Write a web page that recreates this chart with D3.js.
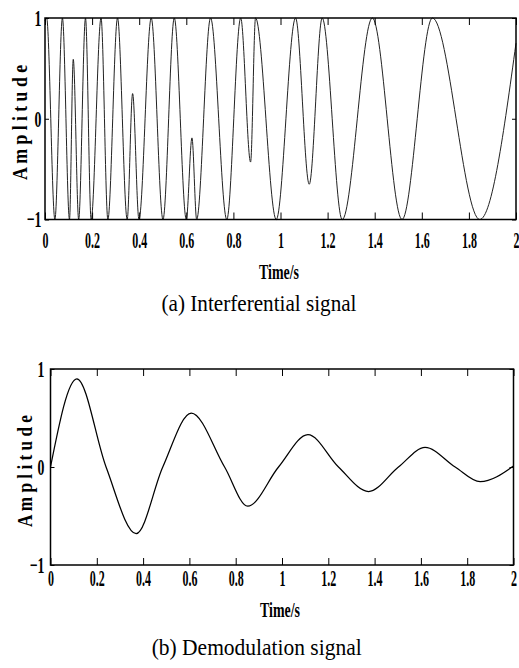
<!DOCTYPE html>
<html>
<head>
<meta charset="utf-8">
<script src="https://cdn.jsdelivr.net/npm/d3@7"></script>
<style>
  body { margin: 0; background: #fff; }
  svg text { font-family: "Liberation Serif", "DejaVu Serif", serif; }
</style>
</head>
<body>
<svg id="chart" width="519" height="668"></svg>
<script>
// (a) interferential signal: peaks, troughs and spikes
const timeA = [0, 0.007, 0.042, 0.074, 0.104, 0.120, 0.143, 0.172, 0.196, 0.238, 0.267, 0.308,
  0.349, 0.372, 0.399, 0.451, 0.501, 0.549, 0.600, 0.624, 0.644, 0.703, 0.772, 0.831,
  0.873, 0.894, 0.982, 1.064, 1.122, 1.177, 1.262, 1.390, 1.516, 1.645, 1.846, 2.0];
const ampA = [0.97, 1, -1, 1, -1, 0.59, -1, 1, -1, 1, -1, 1,
  -1, 0.25, -1, 1, -1, 1, -1, -0.19, -1, 1, -1, 1,
  -0.43, 1, -1, 1, -0.65, 1, -1, 1, -1, 1, -1, 0.75];

// (b) demodulation signal: extrema and zero crossings
const timeB = [0, 0.114, 0.24, 0.370, 0.485, 0.608, 0.752, 0.852, 0.985, 1.112, 1.244,
  1.374, 1.503, 1.618, 1.748, 1.856, 2.0];
const ampB = [0, 0.9, 0, -0.68, 0, 0.55, 0, -0.4, 0, 0.33, 0, -0.25, 0, 0.2, 0, -0.15, 0.01];

const xTicks = [0, 0.2, 0.4, 0.6, 0.8, 1, 1.2, 1.4, 1.6, 1.8, 2];
const yTicks = [-1, 0, 1];

const FONT = "Liberation Serif";
const svg = d3.select("#chart");

function panel(cfg) {
  const x = d3.scaleLinear().domain([0, 2]).range([cfg.left, cfg.right]);
  const y = d3.scaleLinear().domain([-1, 1]).range([cfg.bottom, cfg.top]);
  const g = svg.append("g");

  const pts = cfg.t.map((d, i) => [d, cfg.v[i]]);
  g.append("path")
    .datum(pts)
    .attr("fill", "none")
    .attr("stroke", cfg.color)
    .attr("stroke-width", cfg.lw)
    .attr("d", d3.line().x(d => x(d[0])).y(d => y(d[1])).curve(d3.curveMonotoneX));

  const fmt = d3.format("~g");

  const bx = g.append("g")
    .attr("transform", `translate(0,${cfg.bottom})`)
    .call(d3.axisBottom(x).tickValues(xTicks).tickSize(-7).tickPadding(cfg.xPad).tickFormat(fmt));
  g.append("g")
    .attr("transform", `translate(0,${cfg.top})`)
    .call(d3.axisTop(x).tickValues(xTicks).tickSize(-7).tickFormat(""));
  const ly = g.append("g")
    .attr("transform", `translate(${cfg.left},0)`)
    .call(d3.axisLeft(y).tickValues(yTicks).tickSize(-4).tickFormat(fmt));
  g.append("g")
    .attr("transform", `translate(${cfg.right},0)`)
    .call(d3.axisRight(y).tickValues(yTicks).tickSize(-4).tickFormat(""));

  g.selectAll(".domain").remove();
  g.selectAll(".tick line").attr("stroke", "#000");

  bx.selectAll("text")
    .attr("font-family", FONT)
    .attr("font-size", 24).attr("font-weight", "bold").attr("fill", "#000")
    .attr("dy", "0.68em")
    .attr("transform", "scale(0.5,1)");
  ly.selectAll("text")
    .attr("font-family", FONT)
    .attr("font-size", 23).attr("font-weight", "bold").attr("fill", "#000")
    .attr("x", cfg.yPad)
    .attr("transform", "scale(0.6,1)");

  g.append("rect")
    .attr("x", cfg.left).attr("y", cfg.top)
    .attr("width", cfg.right - cfg.left).attr("height", cfg.bottom - cfg.top)
    .attr("fill", "none").attr("stroke", "#000").attr("stroke-width", 1.5);

  // y label
  g.append("text")
    .attr("transform", `translate(${cfg.ylab[0]},${cfg.ylab[1]}) rotate(-90)`)
    .attr("text-anchor", "middle")
    .attr("font-family", FONT)
    .attr("font-size", cfg.ylab[3]).attr("font-weight", "bold")
    .attr("textLength", cfg.ylab[2]).attr("lengthAdjust", "spacingAndGlyphs")
    .text("A m p l i t u d e");

  // x label
  g.append("text")
    .attr("x", cfg.xlab[0]).attr("y", cfg.xlab[1])
    .attr("text-anchor", "middle")
    .attr("font-family", FONT)
    .attr("font-size", 20).attr("font-weight", "bold")
    .attr("textLength", 40).attr("lengthAdjust", "spacingAndGlyphs")
    .text("Time/s");

  // caption
  g.append("text")
    .attr("x", cfg.cap[0]).attr("y", cfg.cap[1])
    .attr("text-anchor", "middle")
    .attr("font-family", FONT)
    .attr("font-size", 24)
    .attr("textLength", cfg.cap[2]).attr("lengthAdjust", "spacingAndGlyphs")
    .text(cfg.caption);
}

panel({
  t: timeA, v: ampA, color: "#222", lw: 1,
  left: 45, right: 516, top: 18, bottom: 219.5,
  xPad: 12, yPad: -6,
  ylab: [26.5, 122.5, 115, 21],
  xlab: [279, 279],
  cap: [259, 311, 195],
  caption: "(a) Interferential signal"
});

panel({
  t: timeB, v: ampB, color: "#000", lw: 1.25,
  left: 50.5, right: 513.5, top: 369, bottom: 565,
  xPad: 5, yPad: -10,
  ylab: [32, 471, 112, 22],
  xlab: [280, 617],
  cap: [256.7, 655, 210],
  caption: "(b) Demodulation signal"
});
</script>
</body>
</html>
